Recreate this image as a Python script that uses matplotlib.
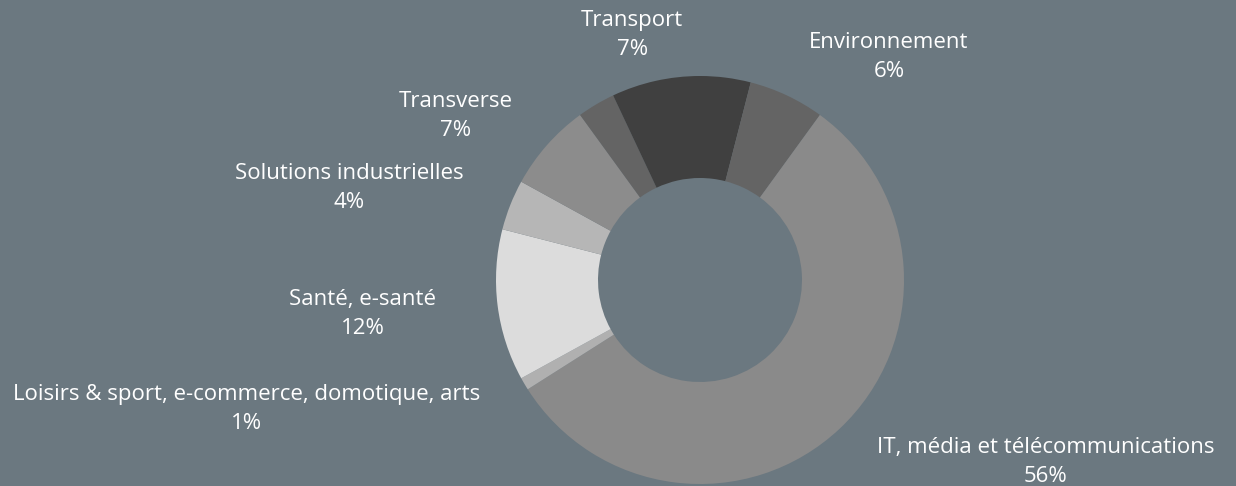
import matplotlib
matplotlib.use('Agg')
import matplotlib.pyplot as plt

# parts du donut, dans le sens horaire depuis midi
sectors = ['', 'Environnement', 'IT, média et télécommunications',
           'Loisirs & sport, e-commerce, domotique, arts', 'Santé, e-santé',
           'Solutions industrielles', 'Transverse', '', 'Transport']
shares = [4, 6, 56, 1, 12, 4, 7, 3, 7]
colors = ['#404040', '#646464', '#8a8a8a', '#b0b0b0', '#dcdcdc',
          '#b6b6b6', '#8c8c8c', '#646464', '#404040']

# ou poser les etiquettes (en rayons du donut)
label_pos = [None, (0.926, 1.093), (1.696, -0.892), (-2.221, -0.632),
             (-1.652, -0.167), (-1.721, 0.451), (-1.196, 0.804), None,
             (-0.333, 1.201)]

bg = '#6b7880'
plt.rcParams['font.family'] = ['Open Sans', 'DejaVu Sans']

fig = plt.figure(figsize=(12.36, 4.86), dpi=100, facecolor=bg)
ax = fig.add_axes([0, 0, 1, 1])
ax.set_facecolor(bg)

ax.pie(shares, colors=colors, startangle=90, counterclock=False,
       wedgeprops=dict(width=0.5, linewidth=0))

for name, val, pos in zip(sectors, shares, label_pos):
    if pos is None:
        continue
    ax.text(pos[0], pos[1], f"{name}\n{val}%", ha='center', va='center',
            multialignment='center', color='white', fontsize=16,
            linespacing=1.55)

ax.set_xlim(-700 / 204, 536 / 204)
ax.set_ylim(-206 / 204, 280 / 204)
ax.set_aspect('auto')
ax.axis('off')

fig.savefig('out.png', dpi=100, facecolor=bg)
